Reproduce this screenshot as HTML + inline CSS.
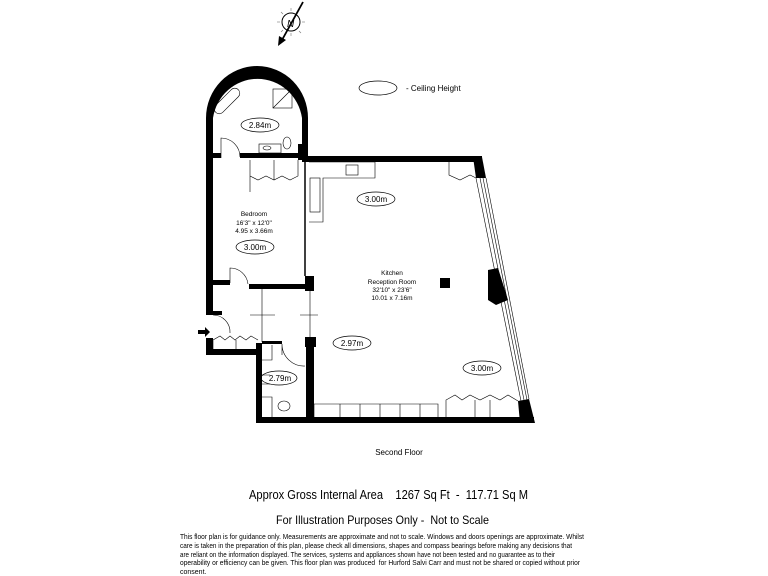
<!DOCTYPE html>
<html><head><style>
body{margin:0;background:#fff;}
svg{display:block;font-family:"Liberation Sans",sans-serif;}
text{white-space:pre;}
</style></head><body>
<svg width="768" height="576" viewBox="0 0 768 576" xmlns="http://www.w3.org/2000/svg">
<!-- compass -->
<g stroke="#000" fill="none">
<circle cx="291" cy="22" r="9" stroke-width="1"/>
<g stroke-width="0.6" stroke="#777">
<line x1="291" y1="8" x2="291" y2="11"/><line x1="281" y1="12" x2="283" y2="14"/><line x1="277" y1="22" x2="280" y2="22"/><line x1="302" y1="22" x2="305" y2="22"/><line x1="299" y1="31" x2="301" y2="33"/><line x1="281" y1="32" x2="283" y2="30"/><line x1="291" y1="33" x2="291" y2="36"/>
</g>
<line x1="303" y1="2" x2="282" y2="40" stroke-width="1.8"/>
</g>
<polygon points="278,46 279,36 286,40" fill="#000"/>
<text x="287" y="27" font-size="10" font-style="italic">N</text>

<!-- ceiling legend -->
<ellipse cx="378" cy="88" rx="19" ry="7" fill="none" stroke="#000" stroke-width="0.7"/>
<text x="406" y="91" font-size="8">- Ceiling Height</text>

<g fill="#000">
<path d="M206,118 A51,52 0 0 1 308,118 L308,160 L302,160 L302,118 A45,46 0 0 0 213,118 L213,160 L206,160 Z"/>
<rect x="206" y="153" width="15" height="5"/>
<rect x="240" y="153" width="68" height="5"/>
<rect x="298" y="144" width="10" height="16"/>
<rect x="206" y="153" width="7" height="162"/>
<rect x="206" y="311" width="16" height="4"/>
<rect x="206" y="338" width="7" height="17"/>
<rect x="206" y="349" width="56" height="6"/>
<rect x="256" y="343" width="6" height="80"/>
<rect x="262" y="341" width="20" height="3"/>
<rect x="256" y="417" width="278" height="6"/>
<rect x="306" y="342" width="8" height="80"/>
<rect x="305" y="337" width="11" height="10"/>
<rect x="302" y="156" width="180" height="6"/>
<rect x="206" y="280" width="24" height="5"/>
<rect x="249" y="284" width="60" height="5"/>
<rect x="305" y="276" width="9" height="15"/>
<polygon points="473,157 482,157 486,178 476,178"/>
<polygon points="488,270 498,268 508,300 496,305 488,300"/>
<polygon points="518,401 529,399 535,423 520,423"/>
<rect x="440" y="278" width="10" height="10"/>
<polygon points="198,330 205,330 205,327 210,332 205,337 205,334 198,334"/>
</g>
<g stroke="#000" stroke-width="0.6">
<line x1="476" y1="178" x2="521" y2="401"/>
<line x1="480" y1="178" x2="524" y2="400"/>
<line x1="483" y1="178" x2="527" y2="400"/>
<line x1="486" y1="178" x2="529" y2="399"/>
</g>
<g stroke="#000" stroke-width="0.6" fill="none">
<rect x="259" y="144" width="22" height="9"/>
<ellipse cx="267" cy="148" rx="4" ry="2"/>
<ellipse cx="287" cy="143" rx="4" ry="6"/>
<rect x="222" y="85" width="10" height="32" rx="5" transform="rotate(45 227 101)"/>
<rect x="273" y="89" width="19" height="19"/>
<line x1="273" y1="108" x2="292" y2="89"/>
<path d="M221,158 L221,138 A19,19 0 0 1 240,157"/>
<line x1="305" y1="162" x2="305" y2="276" stroke-width="1.5"/>
<path d="M309,162 L375,162 L375,178 L323,178 L323,222 L309,222"/>
<rect x="346" y="165" width="12" height="10"/>
<rect x="310" y="178" width="10" height="34"/>
<path d="M250,192 L250,176 L258,180 L266,176 L274,180 L282,176 L290,180 L298,176 L298,160 M250,160 L250,192 M274,160 L274,180"/>
<path d="M449,160 L449,175 L460,180 L470,175 L476,178"/>
<path d="M230,283 L230,268 A18,18 0 0 1 248,284"/>
<line x1="262" y1="289" x2="262" y2="342"/>
<line x1="310" y1="291" x2="310" y2="340"/>
<line x1="250" y1="315" x2="275" y2="315"/>
<line x1="300" y1="315" x2="318" y2="315"/>
<path d="M213,315 A17,17 0 0 1 230,333"/>
<path d="M213,340 L220,336 L225,340 L230,336 L235,340 L240,336 L246,340 L251,336 L258,340 M236,340 L236,349 M213,349 L213,340"/>
<path d="M282,344 L282,355 M282,344 A22,22 0 0 0 305,366"/>
<path d="M262,360 L272,360 L272,345 M262,375 L270,375 M262,384 L270,384 M262,397 L272,397 L272,417"/>
<ellipse cx="284" cy="406" rx="6" ry="5"/>
<path d="M314,404 L438,404 L438,417 M314,404 L314,417 M340,404 L340,417 M360,404 L360,417 M380,404 L380,417 M400,404 L400,417 M420,404 L420,417"/>
<path d="M446,417 L446,400 L455,395 L462,400 L470,395 L480,400 L490,395 L500,400 L508,395 L518,401 M475,400 L475,417 M490,400 L490,417"/>
</g>
<g fill="none" stroke="#000" stroke-width="0.7">
<ellipse cx="260" cy="125" rx="19" ry="7"/>
<ellipse cx="376" cy="199" rx="19" ry="7"/>
<ellipse cx="255" cy="247" rx="19" ry="7"/>
<ellipse cx="352" cy="343" rx="19" ry="7"/>
<ellipse cx="482" cy="368" rx="19" ry="7"/>
<ellipse cx="279" cy="378" rx="18" ry="7"/>
</g>
<g font-size="8" text-anchor="middle">
<text x="260" y="128">2.84m</text>
<text x="376" y="202">3.00m</text>
<text x="255" y="250">3.00m</text>
<text x="352" y="346">2.97m</text>
<text x="482" y="371">3.00m</text>
<text x="280" y="381">2.79m</text>
</g>
<g font-size="6.5" text-anchor="middle">
<text x="254" y="216">Bedroom</text>
<text x="254" y="225">16'3" x 12'0"</text>
<text x="254" y="233">4.95 x 3.66m</text>
<text x="392" y="275">Kitchen</text>
<text x="392" y="284">Reception Room</text>
<text x="392" y="292">32'10" x 23'6"</text>
<text x="392" y="300">10.01 x 7.16m</text>
<text x="399" y="455" font-size="8">Second Floor</text>
</g>
<text x="249" y="499" font-size="13" textLength="279" lengthAdjust="spacingAndGlyphs">Approx Gross Internal Area    1267 Sq Ft  -  117.71 Sq M</text>
<text x="276" y="524" font-size="12" textLength="213" lengthAdjust="spacingAndGlyphs">For Illustration Purposes Only -  Not to Scale</text>
<g font-size="7">
<text x="180" y="539" textLength="404" lengthAdjust="spacingAndGlyphs">This floor plan is for guidance only. Measurements are approximate and not to scale. Windows and doors openings are approximate. Whilst</text>
<text x="180" y="548" textLength="392" lengthAdjust="spacingAndGlyphs">care is taken in the preparation of this plan, please check all dimensions, shapes and compass bearings before making any decisions that</text>
<text x="180" y="557" textLength="375" lengthAdjust="spacingAndGlyphs">are reliant on the information displayed. The services, systems and appliances shown have not been tested and no guarantee as to their</text>
<text x="180" y="565" textLength="400" lengthAdjust="spacingAndGlyphs">operability or efficiency can be given. This floor plan was produced  for Hurford Salvi Carr and must not be shared or copied without prior</text>
<text x="180" y="574">consent.</text>
</g>
</svg>
</body></html>
